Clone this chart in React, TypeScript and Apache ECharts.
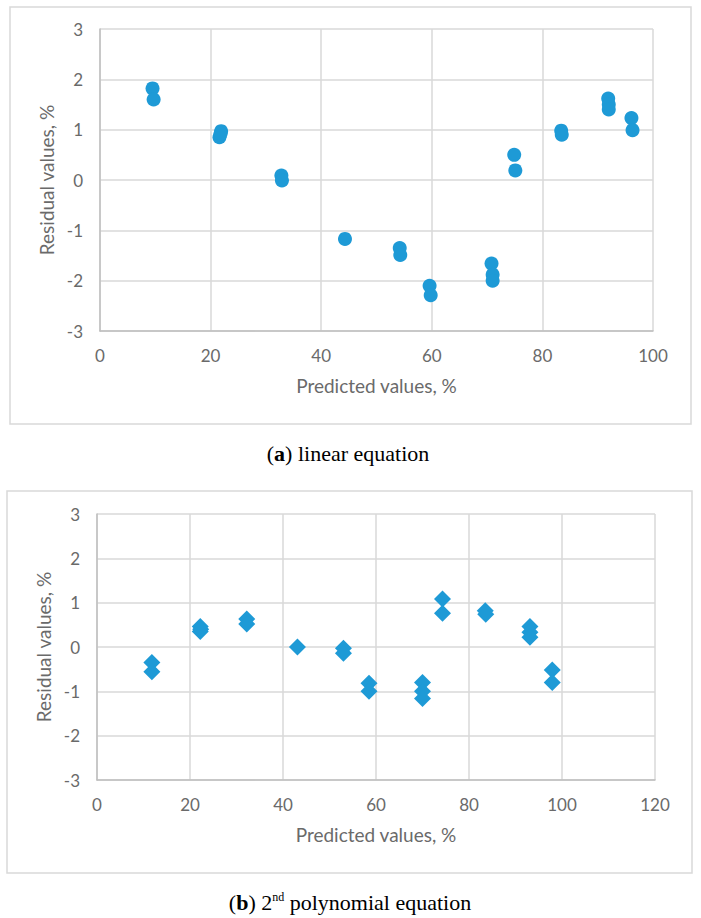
import React, { useEffect, useRef } from "react";
import * as echarts from "echarts";

// (a) linear equation: predicted vs residual
const linearX = [9.5, 9.7, 21.9, 21.6, 21.8, 32.8, 32.9, 44.3, 54.2, 54.3, 59.6, 59.8, 70.8, 71.0, 71.0, 74.9, 75.1, 83.4, 83.5, 91.9, 92.0, 92.0, 96.1, 96.3];
const linearY = [1.82, 1.6, 0.97, 0.85, 0.92, 0.09, -0.01, -1.17, -1.35, -1.49, -2.1, -2.29, -1.66, -1.88, -2.0, 0.5, 0.19, 0.98, 0.9, 1.62, 1.5, 1.4, 1.23, 0.99];

// (b) 2nd polynomial equation
const polyX = [11.8, 11.8, 22.2, 22.2, 22.3, 32.2, 32.2, 43.1, 53.0, 53.0, 58.5, 58.5, 70.0, 70.0, 70.0, 74.3, 74.3, 83.5, 83.6, 93.1, 93.1, 93.1, 97.9, 97.9];
const polyY = [-0.35, -0.56, 0.46, 0.35, 0.4, 0.63, 0.52, 0.0, -0.03, -0.14, -0.82, -1.0, -0.8, -1.0, -1.16, 1.08, 0.76, 0.82, 0.74, 0.46, 0.33, 0.22, -0.52, -0.8];

const yTicks = { min: -3, max: 3, interval: 1 };
const xMaxA = 100;
const xMaxB = 120;

const font = "Lato, 'Open Sans', sans-serif";
const grey = "#6A6A6A";
const blue = "#1E9AD6";
const serif = "'Liberation Serif', serif";

const pairs = (xs: number[], ys: number[]) => xs.map((x, i) => [x, ys[i]]);

const App: React.FC = () => {
  const chartRef = useRef<HTMLDivElement>(null);

  useEffect(() => {
    document.body.style.margin = "0";
    if (!chartRef.current) return;

    const myChart = echarts.init(chartRef.current, null, { renderer: "svg" });

    const xAxisBase = (gridIndex: number, max: number, gap: number) => ({
      gridIndex,
      type: "value",
      min: 0,
      max,
      interval: 20,
      name: "Predicted values, %",
      nameLocation: "middle",
      nameGap: gap,
      nameTextStyle: { color: grey, fontFamily: font, fontSize: 19 },
      axisLine: { onZero: false, lineStyle: { color: "#BFBFBF", width: 1.5 } },
      axisTick: { show: false },
      axisLabel: { color: grey, fontFamily: font, fontSize: 17, margin: 16 },
      splitLine: { lineStyle: { color: "#D9D9D9", width: 1.5 } },
    });

    const yAxisBase = (gridIndex: number, gap: number) => ({
      gridIndex,
      type: "value",
      ...yTicks,
      name: "Residual values, %",
      nameLocation: "middle",
      nameGap: gap,
      nameTextStyle: { color: grey, fontFamily: font, fontSize: 19 },
      axisLine: { show: true, onZero: false, lineStyle: { color: "#BFBFBF", width: 1.5 } },
      axisTick: { show: false },
      axisLabel: { color: grey, fontFamily: font, fontSize: 17, margin: 17 },
      splitLine: { lineStyle: { color: "#D9D9D9", width: 1.5 } },
    });

    const option = {
      animation: false,
      grid: [
        { left: 100, top: 29, width: 553, height: 302 },
        { left: 97, top: 514, width: 558, height: 266 },
      ],
      xAxis: [xAxisBase(0, xMaxA, 45), xAxisBase(1, xMaxB, 45)],
      yAxis: [yAxisBase(0, 41), yAxisBase(1, 40)],
      series: [
        {
          type: "scatter",
          xAxisIndex: 0,
          yAxisIndex: 0,
          symbol: "circle",
          symbolSize: 14,
          itemStyle: { color: blue, opacity: 1 },
          data: pairs(linearX, linearY),
        },
        {
          type: "scatter",
          xAxisIndex: 1,
          yAxisIndex: 1,
          symbol: "diamond",
          symbolSize: [17, 17],
          itemStyle: { color: blue, opacity: 1 },
          data: pairs(polyX, polyY),
        },
      ],
      graphic: [
        {
          type: "rect",
          shape: { x: 10, y: 7, width: 681, height: 417 },
          style: { fill: "none", stroke: "#D9D9D9", lineWidth: 1.5 },
          silent: true,
        },
        {
          type: "rect",
          shape: { x: 7, y: 491, width: 685, height: 382 },
          style: { fill: "none", stroke: "#D9D9D9", lineWidth: 1.5 },
          silent: true,
        },
        {
          type: "text",
          x: 348,
          y: 453,
          style: {
            text: "({b|a}) linear equation",
            fill: "#000",
            font: `22px ${serif}`,
            align: "center",
            verticalAlign: "middle",
            rich: {
              b: { fontWeight: "bold", fontSize: 22, fontFamily: serif, fill: "#000" },
            },
          },
        },
        {
          type: "text",
          x: 350,
          y: 902,
          style: {
            text: "({b|b}) 2{sup|nd} polynomial equation",
            fill: "#000",
            font: `22px ${serif}`,
            align: "center",
            verticalAlign: "middle",
            rich: {
              b: { fontWeight: "bold", fontSize: 22, fontFamily: serif, fill: "#000" },
              sup: { fontSize: 12, fontFamily: serif, fill: "#000", verticalAlign: "top" },
            },
          },
        },
      ],
    };

    myChart.setOption(option);

    return () => {
      myChart.dispose();
    };
  }, []);

  return <div ref={chartRef} style={{ width: "701px", height: "918px" }} />;
};

export default App;
